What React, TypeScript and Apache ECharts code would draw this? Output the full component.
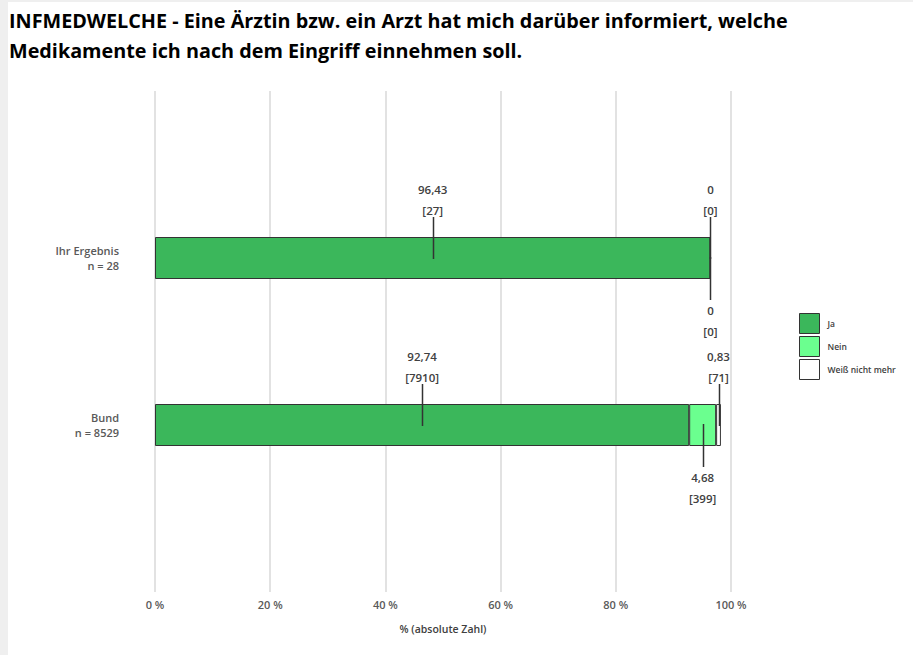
import React, { useEffect, useRef } from "react";
import * as echarts from "echarts";

const TITLE = "INFMEDWELCHE - Eine Ärztin bzw. ein Arzt hat mich darüber informiert, welche\nMedikamente ich nach dem Eingriff einnehmen soll.";
const categories = [" ", "Ihr Ergebnis\nn = 28", "Bund\nn = 8529", "  "];
const seriesNames = ["Ja", "Nein", "Weiß nicht mehr"];
// percentages per answer, for the rows "Ihr Ergebnis" and "Bund"
const jaPct = [96.43, 92.74];
const neinPct = [0, 4.68];
const weissPct = [0, 0.83];
const jaCount = [27, 7910];
const neinCount = [0, 399];
const weissCount = [0, 71];
const xTicks = [0, 20, 40, 60, 80, 100];
// label placement: 1 = above the bar, -1 = below
const labelSide = [
  [1, 1, -1],
  [1, -1, 1],
];
const colors = ["#3bb75b", "#6bff8f", "#ffffff"];

const fmt = (v: number) => (Number.isInteger(v) ? String(v) : v.toFixed(2).replace(".", ","));

export default function App() {
  const ref = useRef<HTMLDivElement>(null);
  useEffect(() => {
    document.body.style.margin = "0";
    const chart = echarts.init(ref.current!, null, { renderer: "svg" });
    const pcts = [jaPct, neinPct, weissPct];
    const counts = [jaCount, neinCount, weissCount];
    const barSeries = seriesNames.map((name, s) => ({
      name,
      type: "bar",
      stack: "total",
      barWidth: 42,
      itemStyle: { color: colors[s], borderColor: "#333", borderWidth: 1 },
      data: pcts[s].map((v, r) => [v, r + 1]),
      z: 2,
    }));
    const annData: any[] = [];
    for (let r = 0; r < 2; r++) {
      let cum = 0;
      for (let s = 0; s < 3; s++) {
        const v = pcts[s][r];
        annData.push([cum, cum + v, r + 1, v, counts[s][r], labelSide[r][s]]);
        cum += v;
      }
    }
    const option: any = {
      animation: false,
      backgroundColor: "#ffffff",
      textStyle: { fontFamily: "Open Sans" },
      title: {
        text: TITLE,
        left: 4,
        top: 0,
        textStyle: { fontFamily: "Open Sans", fontSize: 19.8, fontWeight: "bold", color: "#000", lineHeight: 30 },
      },
      graphic: [
        { type: "rect", left: 0, top: 0, shape: { width: 8, height: 655 }, style: { fill: "#efefef" }, silent: true },
        { type: "rect", left: 0, top: 0, shape: { width: 913, height: 2 }, style: { fill: "#efefef" }, silent: true },
      ],
      legend: {
        data: seriesNames,
        orient: "vertical",
        left: 794,
        top: 308,
        itemWidth: 20,
        itemHeight: 20,
        itemGap: 2,
        icon: "rect",
        itemStyle: { borderColor: "#333", borderWidth: 1 },
        textStyle: { fontSize: 8.5, color: "#404040", fontFamily: "Open Sans", fontWeight: 600, padding: [0, 0, 0, 3] },
      },
      grid: { left: 155, right: 182, top: 91, bottom: 63, containLabel: false },
      xAxis: {
        type: "value",
        min: xTicks[0],
        max: xTicks[xTicks.length - 1],
        interval: 20,
        name: "% (absolute Zahl)",
        nameLocation: "middle",
        nameGap: 31,
        nameTextStyle: { fontSize: 10.5, color: "#404040", fontFamily: "Open Sans", fontWeight: 600 },
        axisLine: { show: false },
        axisTick: { show: false },
        axisLabel: { formatter: "{value} %", fontSize: 11, color: "#595959", margin: 7, fontFamily: "Open Sans", fontWeight: 600 },
        splitLine: { show: true, lineStyle: { color: "#d9d9d9", width: 1.5 } },
      },
      yAxis: {
        type: "category",
        inverse: true,
        boundaryGap: false,
        data: categories,
        axisLine: { show: false },
        axisTick: { show: false },
        splitLine: { show: false },
        axisLabel: { fontSize: 11, color: "#595959", margin: 36, lineHeight: 15, align: "right", fontFamily: "Open Sans", fontWeight: 600 },
      },
      series: [
        ...barSeries,
        {
          type: "custom",
          name: "labels",
          clip: false,
          z: 5,
          encode: { x: [0, 1], y: 2 },
          data: annData,
          renderItem: (params: any, api: any) => {
            const x0 = api.value(0);
            const x1 = api.value(1);
            const cat = api.value(2);
            const v = api.value(3);
            const n = api.value(4);
            const side = api.value(5);
            const p = api.coord([(x0 + x1) / 2, cat]);
            const px = Math.round(p[0]) + 0.5;
            const lineEnd = side > 0 ? p[1] - 41 : p[1] + 42;
            const textY = side > 0 ? p[1] - 47 : p[1] + 52;
            return {
              type: "group",
              children: [
                {
                  type: "line",
                  shape: { x1: px, y1: p[1] + (side > 0 ? 1 : -1), x2: px, y2: lineEnd },
                  style: { stroke: "#333", lineWidth: 1.5 },
                },
                {
                  type: "text",
                  style: {
                    text: fmt(v) + "\n[" + n + "]",
                    x: p[0],
                    y: side > 0 ? textY + 10 : textY - 10,
                    align: "center",
                    verticalAlign: side > 0 ? "bottom" : "top",
                    lineHeight: 21,
                    fill: "#404040",
                    font: "600 11.5px 'Open Sans'",
                  },
                },
              ],
            };
          },
        },
      ],
    };
    chart.setOption(option);
    return () => chart.dispose();
  }, []);
  return <div ref={ref} style={{ width: 913, height: 655 }} />;
}
